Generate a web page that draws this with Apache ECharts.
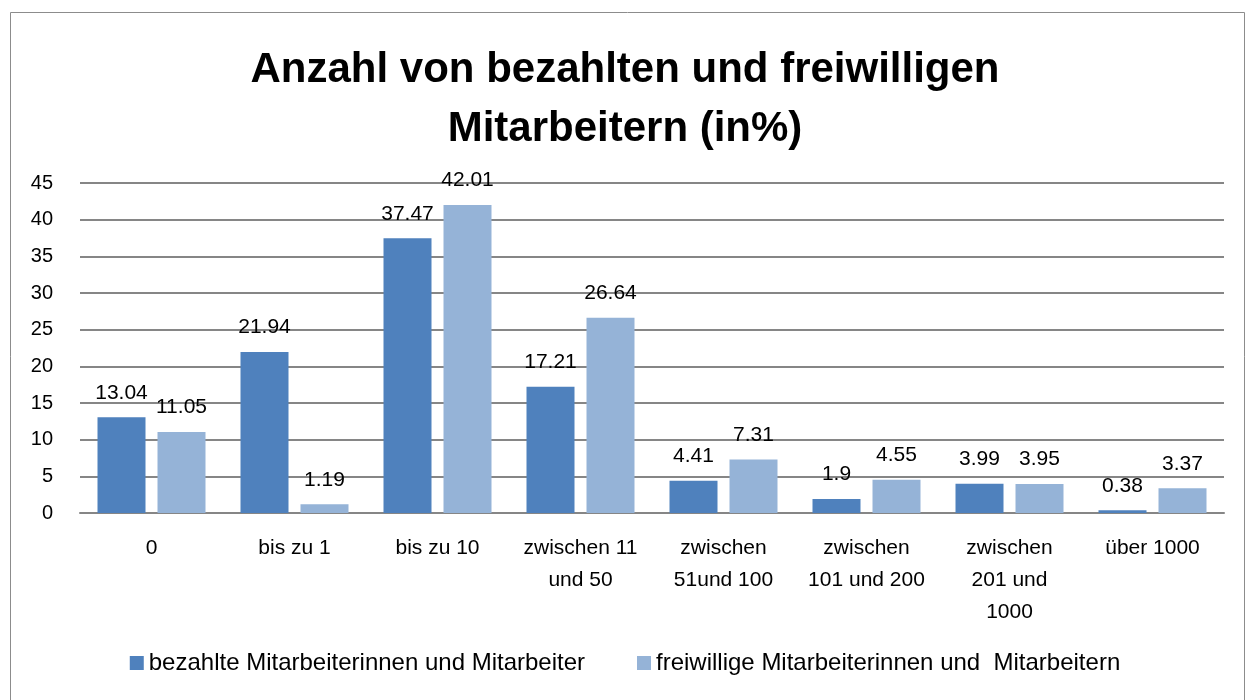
<!DOCTYPE html>
<html>
<head>
<meta charset="utf-8">
<script src="https://cdn.jsdelivr.net/npm/echarts@6/dist/echarts.min.js"></script>
<style>
  html, body { margin: 0; padding: 0; background: #fff; }
  #chart { width: 1250px; height: 700px; }
</style>
</head>
<body>
<div id="chart"></div>
<script>
// Kategorien und Werte aus der Vorlage
var categories = ["0", "bis zu 1", "bis zu 10", "zwischen 11\nund 50", "zwischen\n51und 100",
  "zwischen\n101 und 200", "zwischen\n201 und\n1000", "über 1000"];
var bezahlt = [13.04, 21.94, 37.47, 17.21, 4.41, 1.9, 3.99, 0.38];
var freiwillig = [11.05, 1.19, 42.01, 26.64, 7.31, 4.55, 3.95, 3.37];
var seriesNames = ["bezahlte Mitarbeiterinnen und Mitarbeiter", "freiwillige Mitarbeiterinnen und  Mitarbeitern"];

var font = "'Liberation Sans', Arial, sans-serif";
var chart = echarts.init(document.getElementById("chart"));

var labelStyle = {
  show: true,
  position: "top",
  distance: 14,
  color: "#000",
  fontSize: 21,
  fontFamily: font
};

chart.setOption({
  backgroundColor: "#fff",
  animation: false,
  title: {
    text: "Anzahl von bezahlten und freiwilligen\nMitarbeitern (in%)",
    left: "center",
    top: 36,
    textStyle: { fontSize: 42, fontWeight: "bold", color: "#000", fontFamily: font, lineHeight: 59 }
  },
  graphic: [{
    type: "rect",
    shape: { x: 10.5, y: 12.5, width: 1234, height: 700 },
    style: { fill: "none", stroke: "#8c8c8c", lineWidth: 1 },
    silent: true
  }],
  legend: {
    bottom: 20,
    left: "center",
    itemWidth: 14,
    itemHeight: 14,
    itemGap: 52,
    icon: "rect",
    textStyle: { fontSize: 24, color: "#000", fontFamily: font }
  },
  grid: { left: 80, right: 26, top: 183, bottom: 187 },
  xAxis: {
    type: "category",
    data: categories,
    axisLine: { lineStyle: { color: "#868686", width: 2 } },
    axisTick: { show: false },
    axisLabel: { fontSize: 21, color: "#000", fontFamily: font, lineHeight: 32, margin: 19, interval: 0 }
  },
  yAxis: {
    type: "value",
    min: 0,
    max: 45,
    interval: 5,
    axisLine: { show: false },
    axisTick: { show: false },
    splitLine: { lineStyle: { color: "#868686", width: 2 } },
    axisLabel: { fontSize: 20, color: "#000", fontFamily: font, margin: 27 }
  },
  series: [
    {
      name: seriesNames[0],
      type: "bar",
      data: bezahlt,
      barWidth: 48,
      barGap: "25%",
      itemStyle: { color: "#4F81BD" },
      label: labelStyle
    },
    {
      name: seriesNames[1],
      type: "bar",
      data: freiwillig,
      barWidth: 48,
      itemStyle: { color: "#95B3D7" },
      label: labelStyle
    }
  ]
});
</script>
</body>
</html>
